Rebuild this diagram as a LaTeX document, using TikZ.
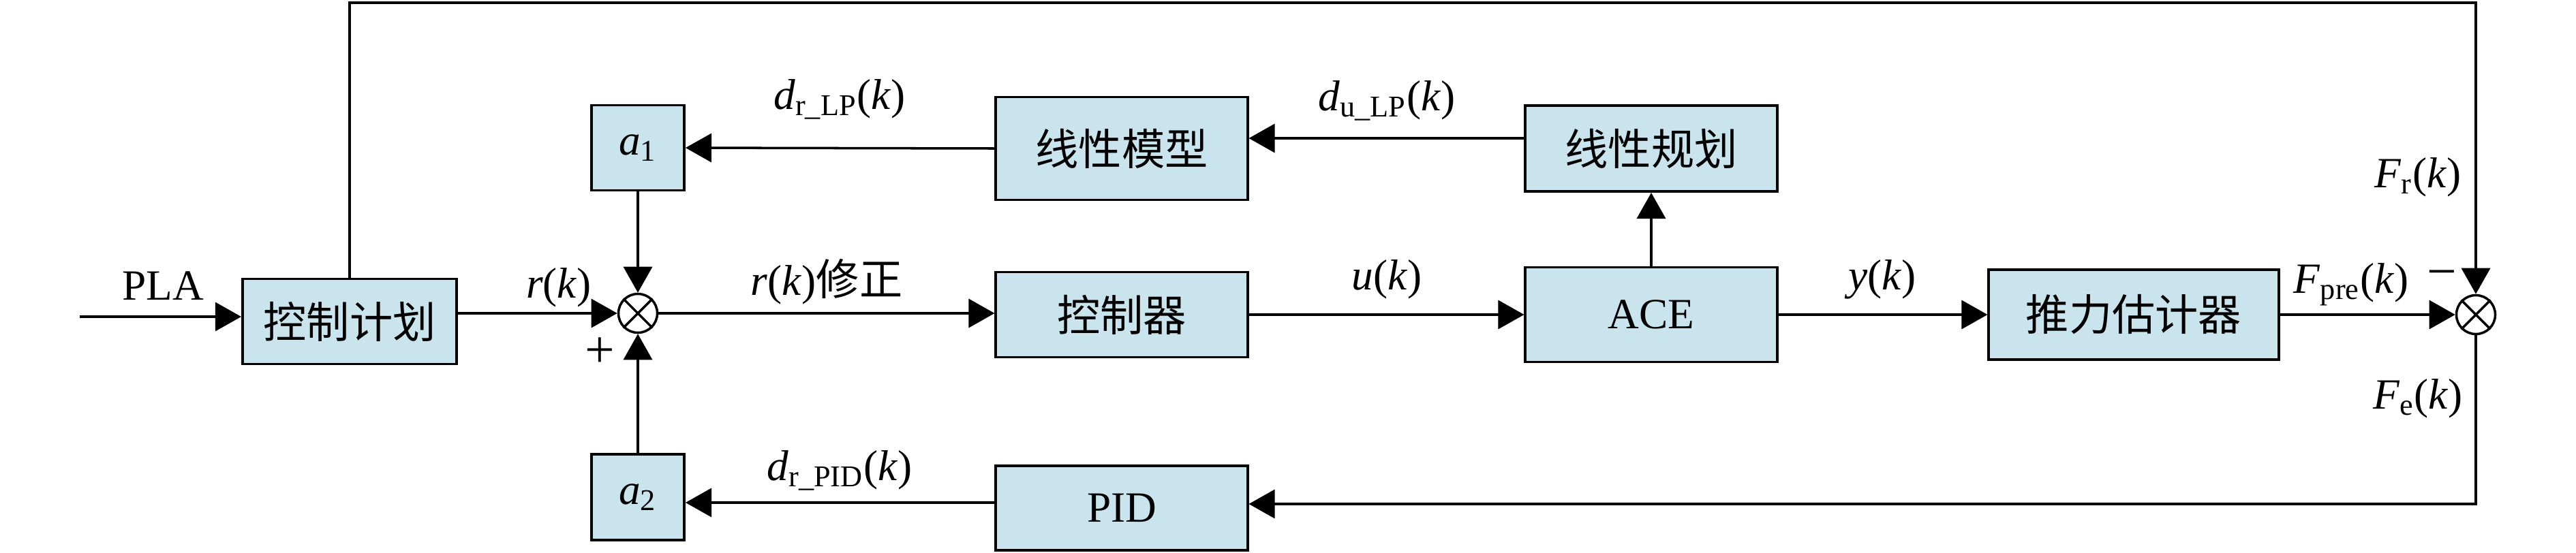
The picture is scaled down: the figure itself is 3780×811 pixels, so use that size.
\documentclass[tikz,border=0pt]{standalone}
\usepackage{fontspec}
\setmainfont{Liberation Serif}
\newfontfamily\cjk{Noto Sans CJK SC}
\usetikzlibrary{arrows.meta,calc}
\definecolor{boxfill}{RGB}{201,228,236}
\begin{document}
\begin{tikzpicture}[x=0.01cm,y=-0.01cm, line width=1pt,
  blk/.style={draw, fill=boxfill, line width=1.1pt, inner sep=0pt, font=\fontsize{18}{20}\selectfont},
  arr/.style={-{Triangle[length=0.38cm,width=0.42cm]}},
  lbl/.style={font=\fontsize{18}{20}\selectfont, inner sep=0pt, anchor=base},
  sign/.style={font=\fontsize{22}{24}\selectfont, inner sep=0pt},
  sumc/.style={draw, circle, minimum size=0.57cm, inner sep=0pt, fill=white}]
\useasboundingbox (0,0) rectangle (3780,811);
% blocks
\node[blk, minimum width=3.14cm, minimum height=1.25cm] (plan) at (513,472) {\cjk 控制计划};
\node[sumc] (s1) at (936,460) {};
\draw (s1.north east) -- (s1.south west) (s1.north west) -- (s1.south east);
\node[blk, minimum width=1.36cm, minimum height=1.25cm] (a1) at (936,217) {\textit{a}\textsubscript{1}};
\node[blk, minimum width=1.36cm, minimum height=1.26cm] (a2) at (936,730) {\textit{a}\textsubscript{2}};
\node[blk, minimum width=3.69cm, minimum height=1.51cm] (model) at (1646,218) {\cjk 线性模型};
\node[blk, minimum width=3.69cm, minimum height=1.25cm] (ctrl) at (1646,462) {\cjk 控制器};
\node[blk, minimum width=3.69cm, minimum height=1.24cm] (pid) at (1646,746) {PID};
\node[blk, minimum width=3.69cm, minimum height=1.26cm] (lp) at (2423,218) {\cjk 线性规划};
\node[blk, minimum width=3.69cm, minimum height=1.39cm] (ace) at (2423,462) {ACE};
\node[blk, minimum width=4.25cm, minimum height=1.32cm] (est) at (3131,462) {\cjk 推力估计器};
\node[sumc] (s2) at (3633,462) {};
\draw (s2.north east) -- (s2.south west) (s2.north west) -- (s2.south east);
% helper coordinates
\coordinate (in) at (117,465);
\coordinate (topy) at (0,4);
\coordinate (boty) at (0,740);
\coordinate (lpy) at (0,203);
\coordinate (pidy) at (0,738);
% connectors
\draw[arr] (in) -- (in -| plan.west);
\draw[arr] (plan.east |- s1) -- (s1.west);
\draw[arr] (plan.north) |- (topy -| s2) -- (s2.north);
\draw[arr] (s1.east) -- (s1.east -| ctrl.west);
\draw[arr] (ctrl.east) -- (ace.west);
\draw[arr] (ace.north) -- (lp.south);
\draw[arr] (lp.west |- lpy) -- (model.east |- lpy);
\draw[arr] (model.west) -- (a1.east);
\draw[arr] (a1.south) -- (s1.north);
\draw[arr] (ace.east) -- (est.west);
\draw[arr] (est.east) -- (s2.west);
\draw[arr] (s2.south) |- (pid.east |- boty);
\draw[arr] (pid.west |- pidy) -- (a2.east |- pidy);
\draw[arr] (a2.north) -- (s1.south);
% labels
\node[lbl] (pla) at (239,440) {PLA};
\node[lbl] (rk) at (820,437) {\textit{r}(\textit{k})};
\node[sign] (plus) at (880,518) {+};
\node[lbl] (drlp) at (1232,160) {\textit{d}\textsubscript{r\_LP}(\textit{k})};
\node[lbl] (rkc) at (1213,433) {\textit{r}(\textit{k}){\cjk 修正}};
\node[lbl] (dulp) at (2035,162) {\textit{d}\textsubscript{u\_LP}(\textit{k})};
\node[lbl] (uk) at (2035,425) {\textit{u}(\textit{k})};
\node[lbl] (yk) at (2762,425) {\textit{y}(\textit{k})};
\node[lbl] (fpre) at (3450,430) {\textit{F}\textsubscript{pre}(\textit{k})};
\node[sign] (minus) at (3583,411) {−};
\node[lbl] (fr) at (3548,275) {\textit{F}\textsubscript{r}(\textit{k})};
\node[lbl] (fe) at (3548,600) {\textit{F}\textsubscript{e}(\textit{k})};
\node[lbl] (drpid) at (1232,705) {\textit{d}\textsubscript{r\_PID}(\textit{k})};
\end{tikzpicture}
\end{document}
